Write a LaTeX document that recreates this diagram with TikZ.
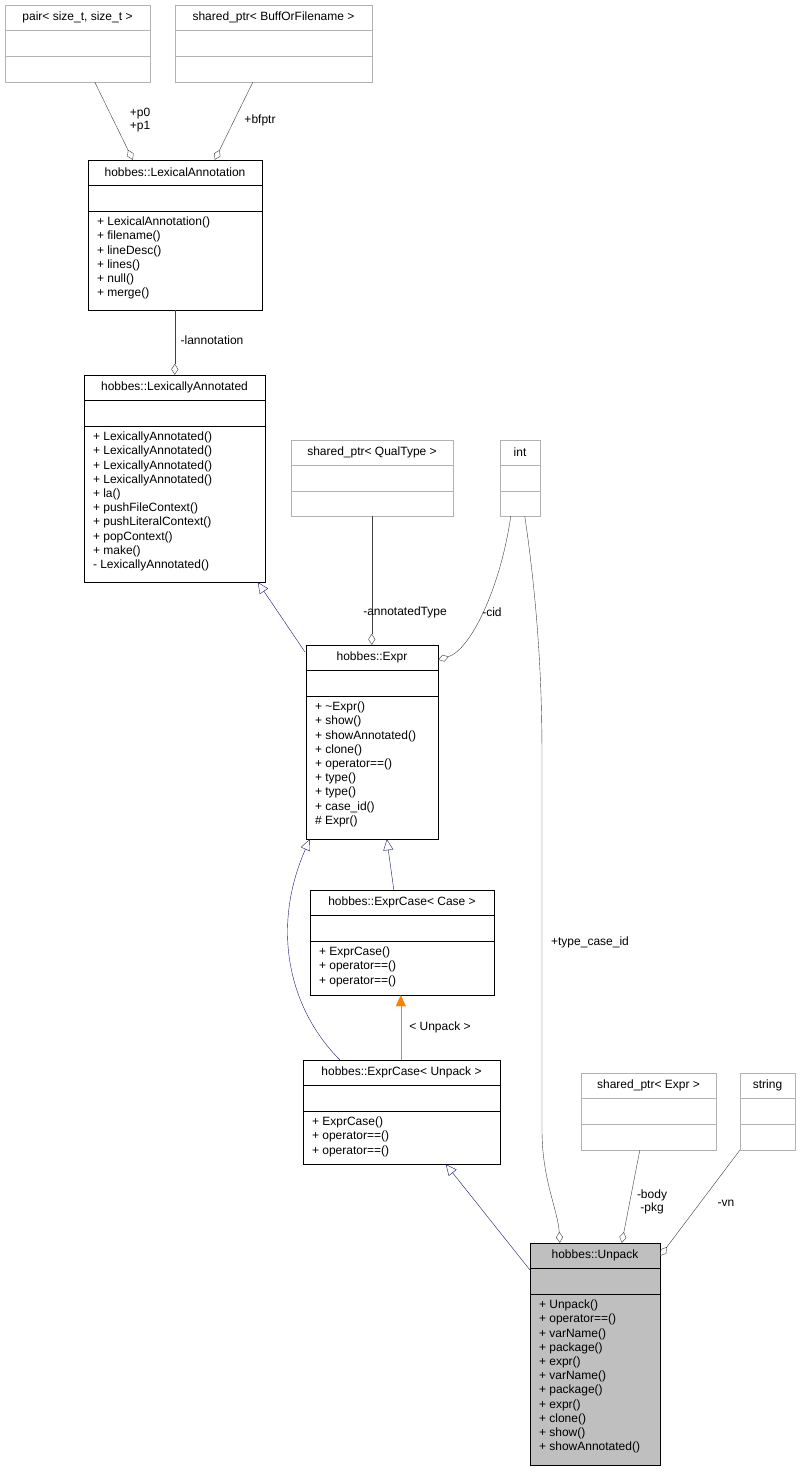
\documentclass[tikz,border=0pt]{standalone}
\usepackage{fontspec}
\setmainfont{Liberation Sans}
\usetikzlibrary{arrows.meta,calc,fit}
\definecolor{navy}{RGB}{25,25,112}
\tikzset{x=1pt,y=1pt,
 lbl/.style={font=\fontsize{12}{13.5}\selectfont,inner sep=1pt,align=center},
 assoc/.style={draw=black!75,-{Diamond[open,length=11pt,width=7pt]}},
 inh/.style={draw=navy,-{Triangle[open,length=11pt,width=10pt]}},
 tmpl/.style={draw=orange,-{Triangle[fill=orange,length=11pt,width=10pt]}}}
\newcommand\umlclass[9]{%
 \node[fit={(#2,-#3)(#4,-#5)},inner sep=0,draw=#6,fill=#7] (#1) {};
 \draw[#6] ($(#1.north west)+(0,-25)$) -- ($(#1.north east)+(0,-25)$);
 \draw[#6] ($(#1.north west)+(0,-51)$) -- ($(#1.north east)+(0,-51)$);
 \node[font=\fontsize{12}{13.5}\selectfont,inner sep=0] (#1-t) at ($(#1.north)+(0,-12.5)$) {#8};
 \node[font=\fontsize{12}{14.2}\selectfont,inner sep=0,anchor=north west,align=left] (#1-m) at ($(#1.north west)+(9,-57)$) {#9};
}
\begin{document}
\begin{tikzpicture}
\useasboundingbox[fill=white] (0,0) rectangle (800,-1472);
\umlclass{pair}{5}{5}{150}{82}{black!30}{white}{pair< size\_t, size\_t >}{}
\umlclass{buff}{175}{5}{372}{82}{black!30}{white}{shared\_ptr< BuffOrFilename >}{}
\umlclass{lexann}{88}{160}{262}{310}{black}{white}{hobbes::LexicalAnnotation}{+ LexicalAnnotation()\\+ filename()\\+ lineDesc()\\+ lines()\\+ null()\\+ merge()}
\umlclass{lexd}{84}{375}{265}{582}{black}{white}{hobbes::LexicallyAnnotated}{+ LexicallyAnnotated()\\+ LexicallyAnnotated()\\+ LexicallyAnnotated()\\+ LexicallyAnnotated()\\+ la()\\+ pushFileContext()\\+ pushLiteralContext()\\+ popContext()\\+ make()\\- LexicallyAnnotated()}
\umlclass{qual}{291}{440}{453}{516}{black!30}{white}{shared\_ptr< QualType >}{}
\umlclass{int}{500}{440}{540}{516}{black!30}{white}{int}{}
\umlclass{expr}{306}{645}{438}{839}{black}{white}{hobbes::Expr}{+ \textasciitilde Expr()\\+ show()\\+ showAnnotated()\\+ clone()\\+ operator==()\\+ type()\\+ type()\\+ case\_id()\\\# Expr()}
\umlclass{ecase}{310}{890}{494}{995}{black}{white}{hobbes::ExprCase< Case >}{+ ExprCase()\\+ operator==()\\+ operator==()}
\umlclass{eunp}{303}{1060}{500}{1164}{black}{white}{hobbes::ExprCase< Unpack >}{+ ExprCase()\\+ operator==()\\+ operator==()}
\umlclass{sexpr}{581}{1073}{716}{1150}{black!30}{white}{shared\_ptr< Expr >}{}
\umlclass{str}{740}{1073}{795}{1150}{black!30}{white}{string}{}
\umlclass{unp}{530}{1243}{660}{1465}{black}{black!25}{hobbes::Unpack}{+ Unpack()\\+ operator==()\\+ varName()\\+ package()\\+ expr()\\+ varName()\\+ package()\\+ expr()\\+ clone()\\+ show()\\+ showAnnotated()}

\draw[assoc] ($(pair.south west)+(90,0)$) -- ($(lexann.north west)+(45,0)$);
\node[lbl] at (140,-120) {+p0\\+p1};
\draw[assoc] ($(buff.south west)+(78,0)$) -- ($(lexann.north west)+(127,0)$);
\node[lbl] at (260,-120) {+bfptr};
\draw[assoc] ($(lexann.south west)+(87,0)$) -- ($(lexd.north west)+(91,0)$);
\node[lbl] at (212,-340) {-lannotation};
\draw[inh] ($(expr.north west)+(-1,-7)$) -- ($(lexd.south west)+(174,0)$);
\draw[assoc] ($(qual.south west)+(81,0)$) -- ($(expr.north west)+(66,0)$);
\node[lbl] at (405,-612) {-annotatedType};
\draw[assoc] ($(int.south west)+(11,0)$) .. controls (500,-590) and (470,-650) .. ($(expr.north east)+(0,-15)$);
\node[lbl] at (492,-612) {-cid};
\draw[assoc] ($(int.south west)+(25,0)$) .. controls (540,-620) and (542,-700) .. (542,-760) -- (542,-1130) .. controls (542,-1180) and (558,-1210) .. ($(unp.north west)+(30,0)$);
\node[lbl] at (590,-942) {+type\_case\_id};
\draw[inh] ($(ecase.north west)+(84,0)$) -- ($(expr.south west)+(81,0)$);
\draw[inh] ($(eunp.north west)+(37,0)$) .. controls (290,-1010) and (270,-930) .. ($(expr.south west)+(4,0)$);
\draw[tmpl] ($(eunp.north west)+(98,0)$) -- ($(ecase.south west)+(91,0)$);
\node[lbl] at (440,-1027) {< Unpack >};
\draw[inh] ($(unp.north west)+(0,-27)$) -- ($(eunp.south west)+(143,0)$);
\draw[assoc] ($(sexpr.south west)+(59,0)$) -- ($(unp.north west)+(92,0)$);
\node[lbl] at (652,-1202) {-body\\-pkg};
\draw[assoc] ($(str.south west)+(0,0)$) -- ($(unp.north east)+(0,-13)$);
\node[lbl] at (726,-1203) {-vn};
\end{tikzpicture}
\end{document}
